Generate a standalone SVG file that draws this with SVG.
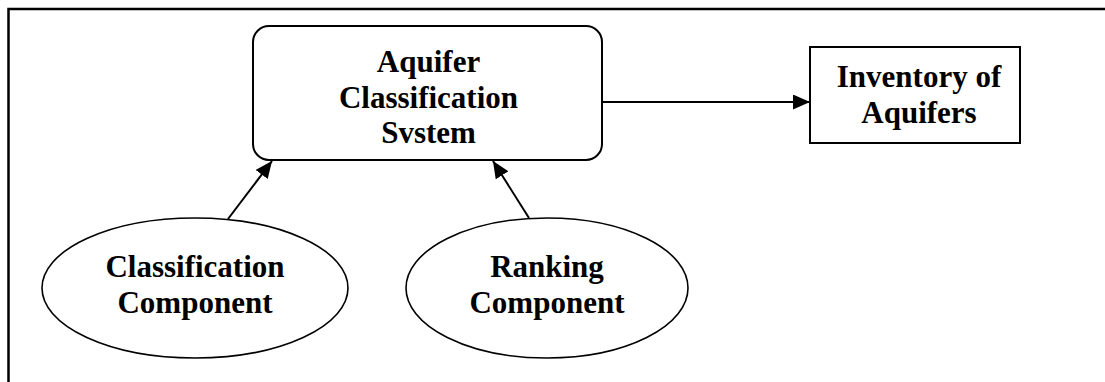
<svg xmlns="http://www.w3.org/2000/svg" width="1105" height="382" viewBox="0 0 1105 382">
<style>
.shape{fill:#fff;stroke:#000;stroke-width:2}
.ell{fill:#fff;stroke:#000;stroke-width:1.6}
.lbl{font-family:"Liberation Serif","Times New Roman",serif;font-weight:bold;font-size:31px;fill:#000;text-anchor:middle}
.conn{stroke:#000;stroke-width:2;fill:none}
.frame{stroke:#000;stroke-width:2.5;fill:none}
</style>
<defs>
<marker id="arr" markerUnits="userSpaceOnUse" markerWidth="18" markerHeight="16" refX="17" refY="7.5" orient="auto">
<path d="M0,0 L17,7.5 L0,15 Z" fill="#000"/>
</marker>
</defs>
<rect width="1105" height="382" fill="#fff"/>
<g id="frame">
<path class="frame" d="M8.5,382 V9 H1105"/>
</g>
<g id="node-acs">
<rect class="shape" x="253" y="26" width="349" height="134" rx="16" ry="16"/>
<text class="lbl" x="428.5" y="72">Aquifer</text>
<text class="lbl" x="428.5" y="107.5">Classification</text>
<text class="lbl" x="428.5" y="143">Svstem</text>
</g>
<g id="node-inventory">
<rect class="shape" x="810" y="47" width="210" height="96"/>
<text class="lbl" x="919" y="87">Inventory of</text>
<text class="lbl" x="919" y="122.5">Aquifers</text>
</g>
<g id="node-classification">
<ellipse class="ell" cx="195" cy="288" rx="153" ry="70"/>
<text class="lbl" x="195" y="277">Classification</text>
<text class="lbl" x="195" y="313">Component</text>
</g>
<g id="node-ranking">
<ellipse class="ell" cx="547" cy="288" rx="141" ry="70"/>
<text class="lbl" x="547" y="277">Ranking</text>
<text class="lbl" x="547" y="313">Component</text>
</g>
<g id="connectors">
<line class="conn" x1="602" y1="102" x2="810" y2="102" marker-end="url(#arr)"/>
<line class="conn" x1="228" y1="219" x2="272" y2="161" marker-end="url(#arr)"/>
<line class="conn" x1="529" y1="218" x2="493" y2="161" marker-end="url(#arr)"/>
</g>
</svg>
